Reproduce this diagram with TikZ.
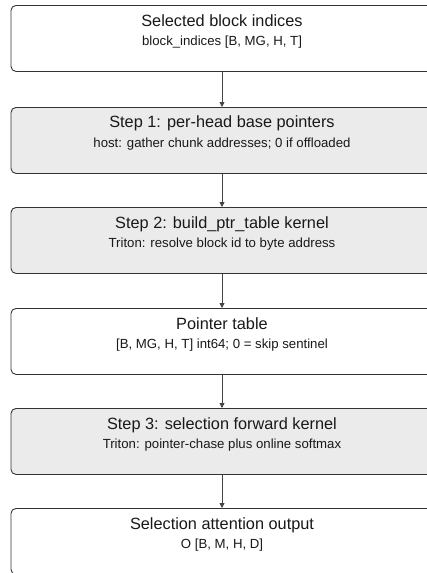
\documentclass[tikz,border=0pt]{standalone}
\usepackage{fontspec}
\setmainfont{Liberation Sans}
\usetikzlibrary{arrows.meta}
\definecolor{boxline}{HTML}{333333}
\definecolor{stepfill}{HTML}{EBEBEB}
\definecolor{arrcol}{HTML}{444444}
\tikzset{
  box/.style={draw=boxline, line width=0.9pt, rounded corners=5pt, minimum width=422pt, minimum height=66pt, inner sep=0pt, anchor=north},
  databox/.style={box, fill=white},
  stepbox/.style={box, fill=stepfill},
  ttl/.style={anchor=base, inner sep=0pt, font=\fontsize{16.3}{19}\selectfont, text=black!90},
  sub/.style={anchor=base, inner sep=0pt, font=\fontsize{13.2}{15}\selectfont, text=black!90},
  arr/.style={draw=arrcol, line width=0.9pt, -{Triangle[length=5pt,width=5pt]}}
}
\begin{document}
\begin{tikzpicture}[x=1pt,y=1pt]
\useasboundingbox (0,0) rectangle (427,-573);
\clip (0,0) rectangle (427,-573);
\fill[white] (0,0) rectangle (427,-573);
% boxes
\node[databox] (b1) at (222,-5) {};
\node[stepbox] (b2) at (222,-107) {};
\node[stepbox] (b3) at (222,-207) {};
\node[databox] (b4) at (222,-308) {};
\node[stepbox] (b5) at (222,-408) {};
\node[databox] (b6) at (222,-508) {};
% texts
\node[ttl] (t1) at (222,-26.5) {Selected block indices};
\node[sub] (s1) at (222,-45.5) {block\_indices [B, MG, H, T]};
\node[ttl] (t2) at (222,-127.5) {Step 1: per-head base pointers};
\node[sub] (s2) at (222,-147) {host: gather chunk addresses; 0 if offloaded};
\node[ttl] (t3) at (222,-228) {Step 2: build\_ptr\_table kernel};
\node[sub] (s3) at (222,-247.5) {Triton: resolve block id to byte address};
\node[ttl] (t4) at (222,-329) {Pointer table};
\node[sub] (s4) at (222,-348.5) {[B, MG, H, T] int64; 0 = skip sentinel};
\node[ttl] (t5) at (222,-429) {Step 3: selection forward kernel};
\node[sub] (s5) at (222,-448.5) {Triton: pointer-chase plus online softmax};
\node[ttl] (t6) at (222,-529) {Selection attention output};
\node[sub] (s6) at (222,-548.5) {O [B, M, H, D]};
% arrows
\draw[arr] (b1.south) -- (b2.north);
\draw[arr] (b2.south) -- (b3.north);
\draw[arr] (b3.south) -- (b4.north);
\draw[arr] (b4.south) -- (b5.north);
\draw[arr] (b5.south) -- (b6.north);
\end{tikzpicture}
\end{document}
